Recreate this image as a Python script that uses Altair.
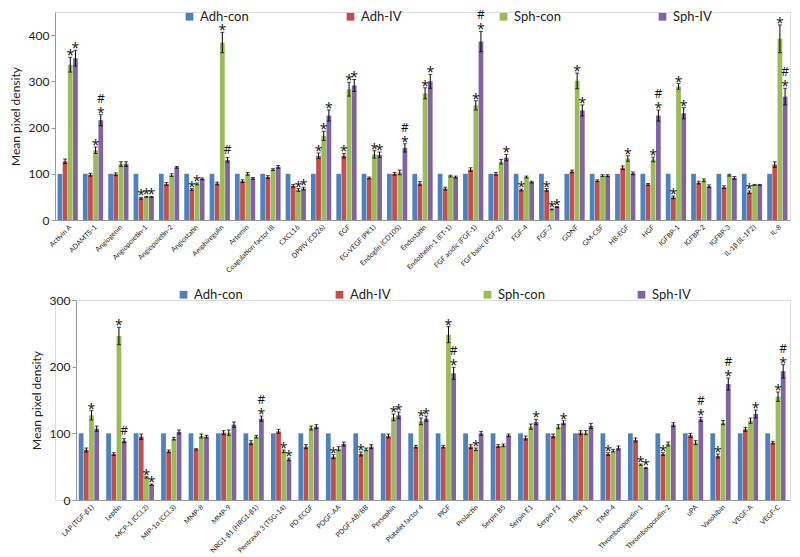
import altair as alt
import pandas as pd

groups = ["Adh-con", "Adh-IV", "Sph-con", "Sph-IV"]
colors = ["#4F81BD", "#C0504D", "#9BBB59", "#8064A2"]
FONT = "Lato"

# ---------------- top panel ----------------
top_categories = ["Activin A", "ADAMTS-1", "Angiogenin", "Angiopoietin-1", "Angiopoietin-2",
                  "Angiostatin", "Amphiregulin", "Artemin", "Coagulation factor III", "CXCL16",
                  "DPPIV (CD26)", "EGF", "EG-VEGF (PK1)", "Endoglin (CD105)", "Endostatin",
                  "Endothelin-1 (ET-1)", "FGF acidic (FGF-1)", "FGF basic (FGF-2)", "FGF-4", "FGF-7",
                  "GDNF", "GM-CSF", "HB-EGF", "HGF", "IGFBP-1", "IGFBP-2", "IGFBP-3",
                  "IL-1β (IL-1F2)", "IL-8"]
top_adh_con = [100, 100, 100, 100, 100, 100, 100, 100, 100, 100, 100, 100, 100, 100, 100,
               100, 100, 100, 100, 100, 100, 100, 100, 100, 100, 100, 100, 100, 100]
top_adh_iv = [127, 98, 99, 47, 78, 66, 79, 84, 93, 74, 139, 139, 91, 100, 79,
              68, 109, 100, 65, 65, 105, 85, 113, 77, 49, 81, 71, 60, 120]
top_adh_iv_err = [5, 3, 3, 2, 3, 2, 3, 3, 3, 3, 6, 5, 2, 3, 4,
                  3, 4, 3, 2, 3, 3, 2, 4, 2, 3, 3, 3, 3, 6]
top_sph_con = [336, 151, 121, 50, 97, 78, 384, 100, 109, 65, 182, 283, 142, 103, 274,
               95, 248, 126, 93, 23, 301, 96, 133, 131, 289, 86, 97, 76, 392]
top_sph_con_err = [16, 7, 5, 1, 3, 2, 22, 3, 2, 3, 10, 15, 8, 5, 12,
                   2, 10, 5, 2, 1, 17, 2, 6, 5, 6, 3, 2, 1, 30]
top_sph_iv = [350, 216, 121, 50, 114, 89, 130, 90, 115, 68, 226, 291, 141, 156, 300,
              93, 386, 135, 82, 28, 237, 96, 101, 226, 231, 73, 91, 76, 267]
top_sph_iv_err = [17, 12, 5, 1, 2, 2, 5, 2, 3, 3, 12, 13, 6, 9, 15,
                  2, 22, 7, 2, 1, 12, 2, 3, 12, 12, 3, 3, 1, 18]
# significance marks: "*" = vs Adh-con, "#" = vs Sph-con, "#*" = both (# drawn above *)
top_adh_iv_sig = ["", "", "", "*", "", "*", "", "", "", "", "*", "*", "", "", "",
                  "", "", "", "*", "*", "", "", "", "", "*", "", "", "*", ""]
top_sph_con_sig = ["*", "*", "", "*", "", "*", "*", "", "", "*", "*", "*", "*", "", "*",
                   "", "*", "", "", "*", "*", "", "*", "*", "*", "", "", "", "*"]
top_sph_iv_sig = ["*", "#*", "", "*", "", "", "#", "", "", "*", "*", "*", "*", "#*", "*",
                  "", "#*", "*", "", "*", "*", "", "", "#*", "*", "", "", "", "#*"]

# ---------------- bottom panel ----------------
bot_categories = ["LAP (TGF-β1)", "Leptin", "MCP-1 (CCL2)", "MIP-1α (CCL3)", "MMP-8", "MMP-9",
                  "NRG1-β1 (HRG1-β1)", "Pentraxin 3 (TSG-14)", "PD-ECGF", "PDGF-AA", "PDGF-AB/BB",
                  "Persephin", "Platelet factor 4", "PlGF", "Prolactin", "Serpin B5", "Serpin E1",
                  "Serpin F1", "TIMP-1", "TIMP-4", "Thrombospondin-1", "Thrombospondin-2", "uPA",
                  "Vasohibin", "VEGF-A", "VEGF-C"]
bot_adh_con = [100, 100, 100, 100, 100, 100, 100, 100, 100, 100, 100, 100, 100,
               100, 100, 100, 100, 100, 100, 100, 100, 100, 100, 100, 100, 100]
bot_adh_iv = [75, 69, 95, 73, 76, 101, 86, 103, 80, 65, 69, 96, 80,
              80, 80, 81, 93, 96, 101, 69, 90, 69, 97, 66, 106, 86]
bot_adh_iv_err = [3, 2, 4, 2, 1, 3, 3, 3, 3, 3, 3, 3, 2,
                  2, 3, 2, 3, 3, 3, 2, 3, 2, 3, 3, 3, 2]
bot_sph_con = [127, 246, 34, 92, 96, 101, 95, 73, 108, 77, 76, 124, 118,
               248, 76, 82, 110, 110, 101, 74, 53, 84, 86, 116, 119, 155]
bot_sph_con_err = [7, 13, 1, 2, 3, 4, 2, 2, 3, 3, 2, 5, 5,
                   12, 2, 2, 4, 3, 3, 2, 1, 3, 3, 3, 4, 7]
bot_sph_iv = [107, 89, 23, 102, 95, 113, 122, 61, 110, 84, 80, 127, 122,
              190, 100, 97, 117, 116, 111, 78, 48, 113, 121, 174, 129, 193]
bot_sph_iv_err = [4, 3, 1, 3, 2, 4, 4, 2, 3, 3, 3, 5, 4,
                  9, 3, 2, 4, 3, 4, 3, 1, 3, 3, 9, 6, 10]
bot_adh_iv_sig = ["", "", "", "", "", "", "", "", "", "*", "*", "", "",
                  "", "", "", "", "", "", "*", "", "*", "", "*", "", ""]
bot_sph_con_sig = ["*", "*", "*", "", "", "", "", "*", "", "", "", "*", "*",
                   "*", "*", "", "", "", "", "", "*", "", "", "", "", "*"]
bot_sph_iv_sig = ["", "#", "*", "", "", "", "#*", "*", "", "", "", "*", "*",
                  "#*", "", "", "*", "*", "", "", "*", "", "#*", "#*", "*", "#*"]


def build_df(cats, series):
    rows = []
    for g, (vals, errs, sigs) in zip(groups, series):
        for c, v, e, s in zip(cats, vals, errs, sigs):
            rows.append({"cat": c, "grp": g, "value": v, "err": e,
                         "lo": v - e, "hi": v + e, "sig": s})
    return pd.DataFrame(rows)


def panel(df, cats, width, height, ymax, x_start, legend_x, legend_y, col_pad, y_offset):
    x = alt.X("cat:N", sort=cats, title=None,
              scale=alt.Scale(range=[x_start, width], paddingInner=0.2, paddingOuter=0.1),
              axis=alt.Axis(labelAngle=-45, labelAlign="right", labelBaseline="top",
                            labelFontSize=7, labelFont=FONT, labelColor="#222",
                            ticks=False, domainColor="#999", labelPadding=3))
    xo = alt.XOffset("grp:N", sort=groups, scale=alt.Scale(paddingInner=0.08))
    yscale = alt.Scale(domain=[0, ymax], nice=False)
    yaxis = alt.Axis(values=list(range(0, ymax + 1, 50)), grid=False, domainColor="#999",
                     tickColor="#999", tickSize=4, labelFontSize=12, labelFont=FONT,
                     labelColor="#222", labelOverlap=False, labelBound=False,
                     titleFont=FONT, titleFontSize=12,
                     titleFontWeight="normal", titleColor="#222", titlePadding=6,
                     offset=y_offset)
    base = alt.Chart(df)
    bars = base.mark_bar().encode(
        x=x, xOffset=xo,
        y=alt.Y("value:Q", scale=yscale, axis=yaxis, title="Mean pixel density"),
        color=alt.Color("grp:N", sort=groups,
                        scale=alt.Scale(domain=groups, range=colors),
                        legend=alt.Legend(title=None, orient="none", direction="horizontal",
                                          legendX=legend_x, legendY=legend_y,
                                          symbolType="square", symbolSize=60,
                                          symbolStrokeWidth=0,
                                          labelFontSize=13, labelFont=FONT, labelColor="#222",
                                          columnPadding=col_pad)),
    )
    errb = base.transform_filter("datum.err > 0")
    rule = errb.mark_rule(color="black", strokeWidth=1).encode(
        x=x, xOffset=xo, y=alt.Y("lo:Q", scale=yscale), y2="hi:Q")
    cap_hi = errb.mark_tick(color="black", thickness=1, size=4).encode(
        x=x, xOffset=xo, y=alt.Y("hi:Q", scale=yscale))
    cap_lo = errb.mark_tick(color="black", thickness=1, size=4).encode(
        x=x, xOffset=xo, y=alt.Y("lo:Q", scale=yscale))
    star = base.transform_filter("indexof(datum.sig, '*') >= 0").mark_text(
        text="*", baseline="alphabetic", fontSize=14, font="Open Sans", dy=3,
        color="#111").encode(x=x, xOffset=xo, y=alt.Y("hi:Q", scale=yscale))
    hash_over = base.transform_filter("datum.sig == '#*'").mark_text(
        text="#", baseline="bottom", fontSize=12, font="Open Sans", dy=-9,
        color="#111").encode(x=x, xOffset=xo, y=alt.Y("hi:Q", scale=yscale))
    hash_only = base.transform_filter("datum.sig == '#'").mark_text(
        text="#", baseline="bottom", fontSize=12, font="Open Sans", dy=-1,
        color="#111").encode(x=x, xOffset=xo, y=alt.Y("hi:Q", scale=yscale))
    return alt.layer(bars, rule, cap_hi, cap_lo, star, hash_over, hash_only).properties(
        width=width, height=height)


top_df = build_df(top_categories, [
    (top_adh_con, [0] * len(top_categories), [""] * len(top_categories)),
    (top_adh_iv, top_adh_iv_err, top_adh_iv_sig),
    (top_sph_con, top_sph_con_err, top_sph_con_sig),
    (top_sph_iv, top_sph_iv_err, top_sph_iv_sig),
])
bot_df = build_df(bot_categories, [
    (bot_adh_con, [0] * len(bot_categories), [""] * len(bot_categories)),
    (bot_adh_iv, bot_adh_iv_err, bot_adh_iv_sig),
    (bot_sph_con, bot_sph_con_err, bot_sph_con_sig),
    (bot_sph_iv, bot_sph_iv_err, bot_sph_iv_sig),
])

W = 735
top = panel(top_df, top_categories, W, 208, 450, 0, 128, -2, 95, 0)
bottom = panel(bot_df, bot_categories, W, 200, 300, 21, 122, -12, 90, -21)

chart = alt.vconcat(top, bottom, spacing=12).resolve_scale(
    color="independent").resolve_legend(color="independent").properties(
    padding=0).configure_view(stroke=None).configure(background="white")

chart.save("out.html", embed_options={"renderer": "svg", "actions": False})
